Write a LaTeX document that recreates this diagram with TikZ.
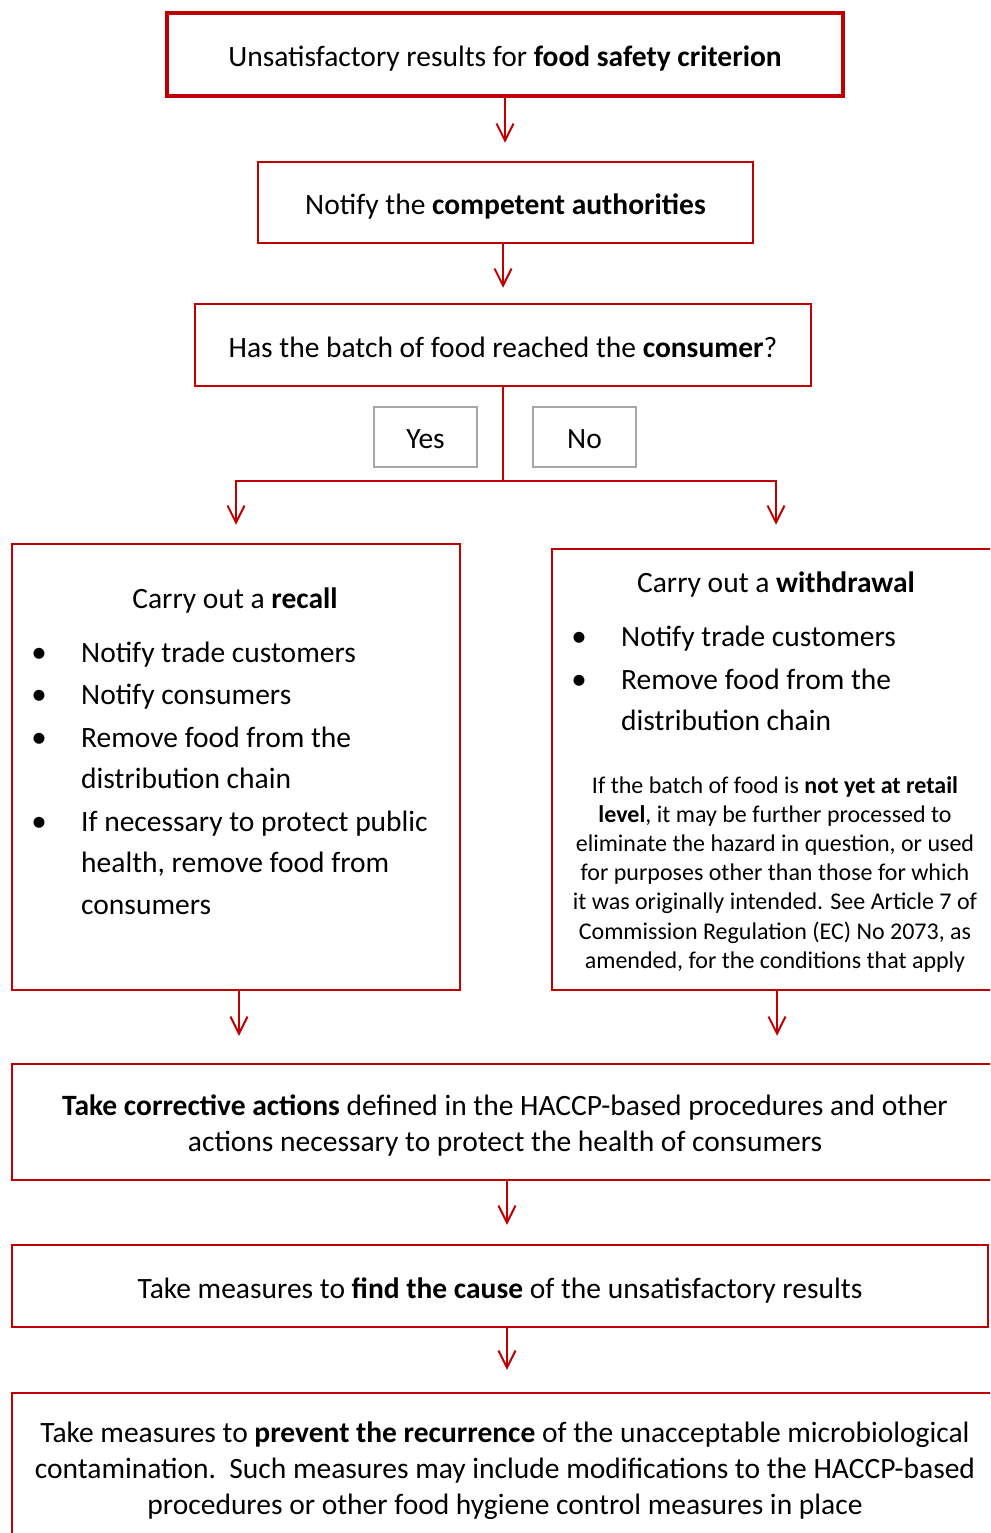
\documentclass[tikz,border=0pt]{standalone}
\usepackage{fontspec}
\setmainfont{Carlito}
\usetikzlibrary{arrows.meta}
\definecolor{dred}{HTML}{C00000}
\definecolor{gbox}{HTML}{A6A6A6}
\newcommand\fsmain{\fontsize{29.5}{36}\selectfont}
\newcommand\fssmall{\fontsize{24}{29}\selectfont}
\newcommand\fsbul{\fontsize{31}{36}\selectfont}
\newcommand\lowr[2]{\raisebox{-#1}[\height][\depth]{#2}}
\begin{document}
\begin{tikzpicture}[x=1pt,y=-1pt,
  box/.style={draw=dred, line width=2.5pt, inner sep=0pt, align=center, font=\fsmain},
  ynbox/.style={draw=gbox, line width=2.5pt, inner sep=0pt, font=\fsmain, minimum width=103pt, minimum height=60pt},
  arr/.style={draw=dred, line width=2pt, -{Straight Barb[length=17pt,width=17pt,line width=2pt]}},
  lin/.style={draw=dred, line width=2pt},
  ltxt/.style={anchor=base west, inner sep=0pt, font=\fsmain},
  ctxt/.style={anchor=base, inner sep=0pt, font=\fsmain},
  stxt/.style={anchor=base, inner sep=0pt, font=\fssmall},
  bul/.style={anchor=base, inner sep=0pt, font=\fsbul}]
\useasboundingbox (0,0) rectangle (990,1533);
\clip (0,0) rectangle (990,1533);
\fill[white] (0,0) rectangle (990,1533);

% main boxes
\node[box, line width=4.5pt, minimum width=676pt, minimum height=83pt] (b1) at (505,54.5)
  {\lowr{4pt}{Unsatisfactory results for \textbf{food safety criterion}}};
\node[box, minimum width=495pt, minimum height=81pt] (b2) at (505.5,202.5)
  {\lowr{4pt}{Notify the \textbf{competent authorities}}};
\node[box, minimum width=616pt, minimum height=82pt] (b3) at (503,345)
  {\lowr{2pt}{Has the batch of food reached the \textbf{consumer}?}};
\node[ynbox] (yes) at (425.5,437) {\lowr{2pt}{Yes}};
\node[ynbox] (no) at (584.5,437) {\lowr{2pt}{No}};

\node[box, minimum width=448pt, minimum height=446pt] (left) at (236,767) {};
\node[box, minimum width=448pt, minimum height=441pt] (right) at (776,769.5) {};

\node[box, minimum width=986pt, minimum height=116pt] (corr) at (505,1122)
  {\lowr{4pt}{\begin{tabular}{@{}c@{}}\textbf{Take corrective actions} defined in the HACCP-based procedures and other\\
   actions necessary to protect the health of consumers\end{tabular}}};
\node[box, minimum width=976pt, minimum height=82pt] (cause) at (500,1286)
  {\lowr{4pt}{Take measures to \textbf{find the cause} of the unsatisfactory results}};
\node[box, minimum width=986pt, minimum height=150pt] (prev) at (505,1468)
  {\lowr{3pt}{\begin{tabular}{@{}c@{}}Take measures to \textbf{prevent the recurrence} of the unacceptable microbiological\\
   contamination.\ \ Such measures may include modifications to the HACCP-based\\
   procedures or other food hygiene control measures in place\end{tabular}}};

% left box content
\node[ctxt] (lt) at (235,608) {Carry out a \textbf{recall}};
\node[bul] (lb1) at (39,662) {•};
\node[ltxt] (l1) at (81,662) {Notify trade customers};
\node[bul] (lb2) at (39,704) {•};
\node[ltxt] (l2) at (81,704) {Notify consumers};
\node[bul] (lb3) at (39,747) {•};
\node[ltxt] (l3) at (81,747) {Remove food from the};
\node[ltxt] (l4) at (81,788) {distribution chain};
\node[bul] (lb4) at (39,831) {•};
\node[ltxt] (l5) at (81,831) {If necessary to protect public};
\node[ltxt] (l6) at (81,872) {health, remove food from};
\node[ltxt] (l7) at (81,914) {consumers};

% right box content
\node[ctxt] (rt) at (776,592) {Carry out a \textbf{withdrawal}};
\node[bul] (rb1) at (579,646) {•};
\node[ltxt] (r1) at (621,646) {Notify trade customers};
\node[bul] (rb2) at (579,689) {•};
\node[ltxt] (r2) at (621,689) {Remove food from the};
\node[ltxt] (r3) at (621,730) {distribution chain};
\node[stxt] (s1) at (775,793) {If the batch of food is \textbf{not yet at retail}};
\node[stxt] (s2) at (775,822) {\textbf{level}, it may be further processed to};
\node[stxt] (s3) at (775,851) {eliminate the hazard in question, or used};
\node[stxt] (s4) at (775,880) {for purposes other than those for which};
\node[stxt] (s5) at (775,909) {it was originally intended. See Article 7 of};
\node[stxt] (s6) at (775,939) {Commission Regulation (EC) No 2073, as};
\node[stxt] (s7) at (775,968) {amended, for the conditions that apply};

% connectors
\draw[arr, shorten >=18pt] (b1.south) -- (b1.south |- b2.north);
\draw[arr, shorten >=15pt] (b3.north |- b2.south) -- (b3.north);
\coordinate (split) at (503,481);
\draw[lin] (b3.south) -- (split);
\draw[arr, shorten >=18pt] (split) -| (left.north);
\draw[arr, shorten >=23pt] (split) -| (right.north);
\draw[arr, shorten >=27pt] ([xshift=3pt]left.south) -- ([xshift=3pt]left.south |- corr.north);
\draw[arr, shorten >=27pt] ([xshift=1pt]right.south) -- ([xshift=1pt]right.south |- corr.north);
\draw[arr, shorten >=19pt] ([xshift=2pt]corr.south) -- ([xshift=2pt]corr.south |- cause.north);
\draw[arr, shorten >=22pt] ([xshift=2pt]cause.south -| corr.south) -- ([xshift=2pt]corr.south |- prev.north);
\end{tikzpicture}
\end{document}
